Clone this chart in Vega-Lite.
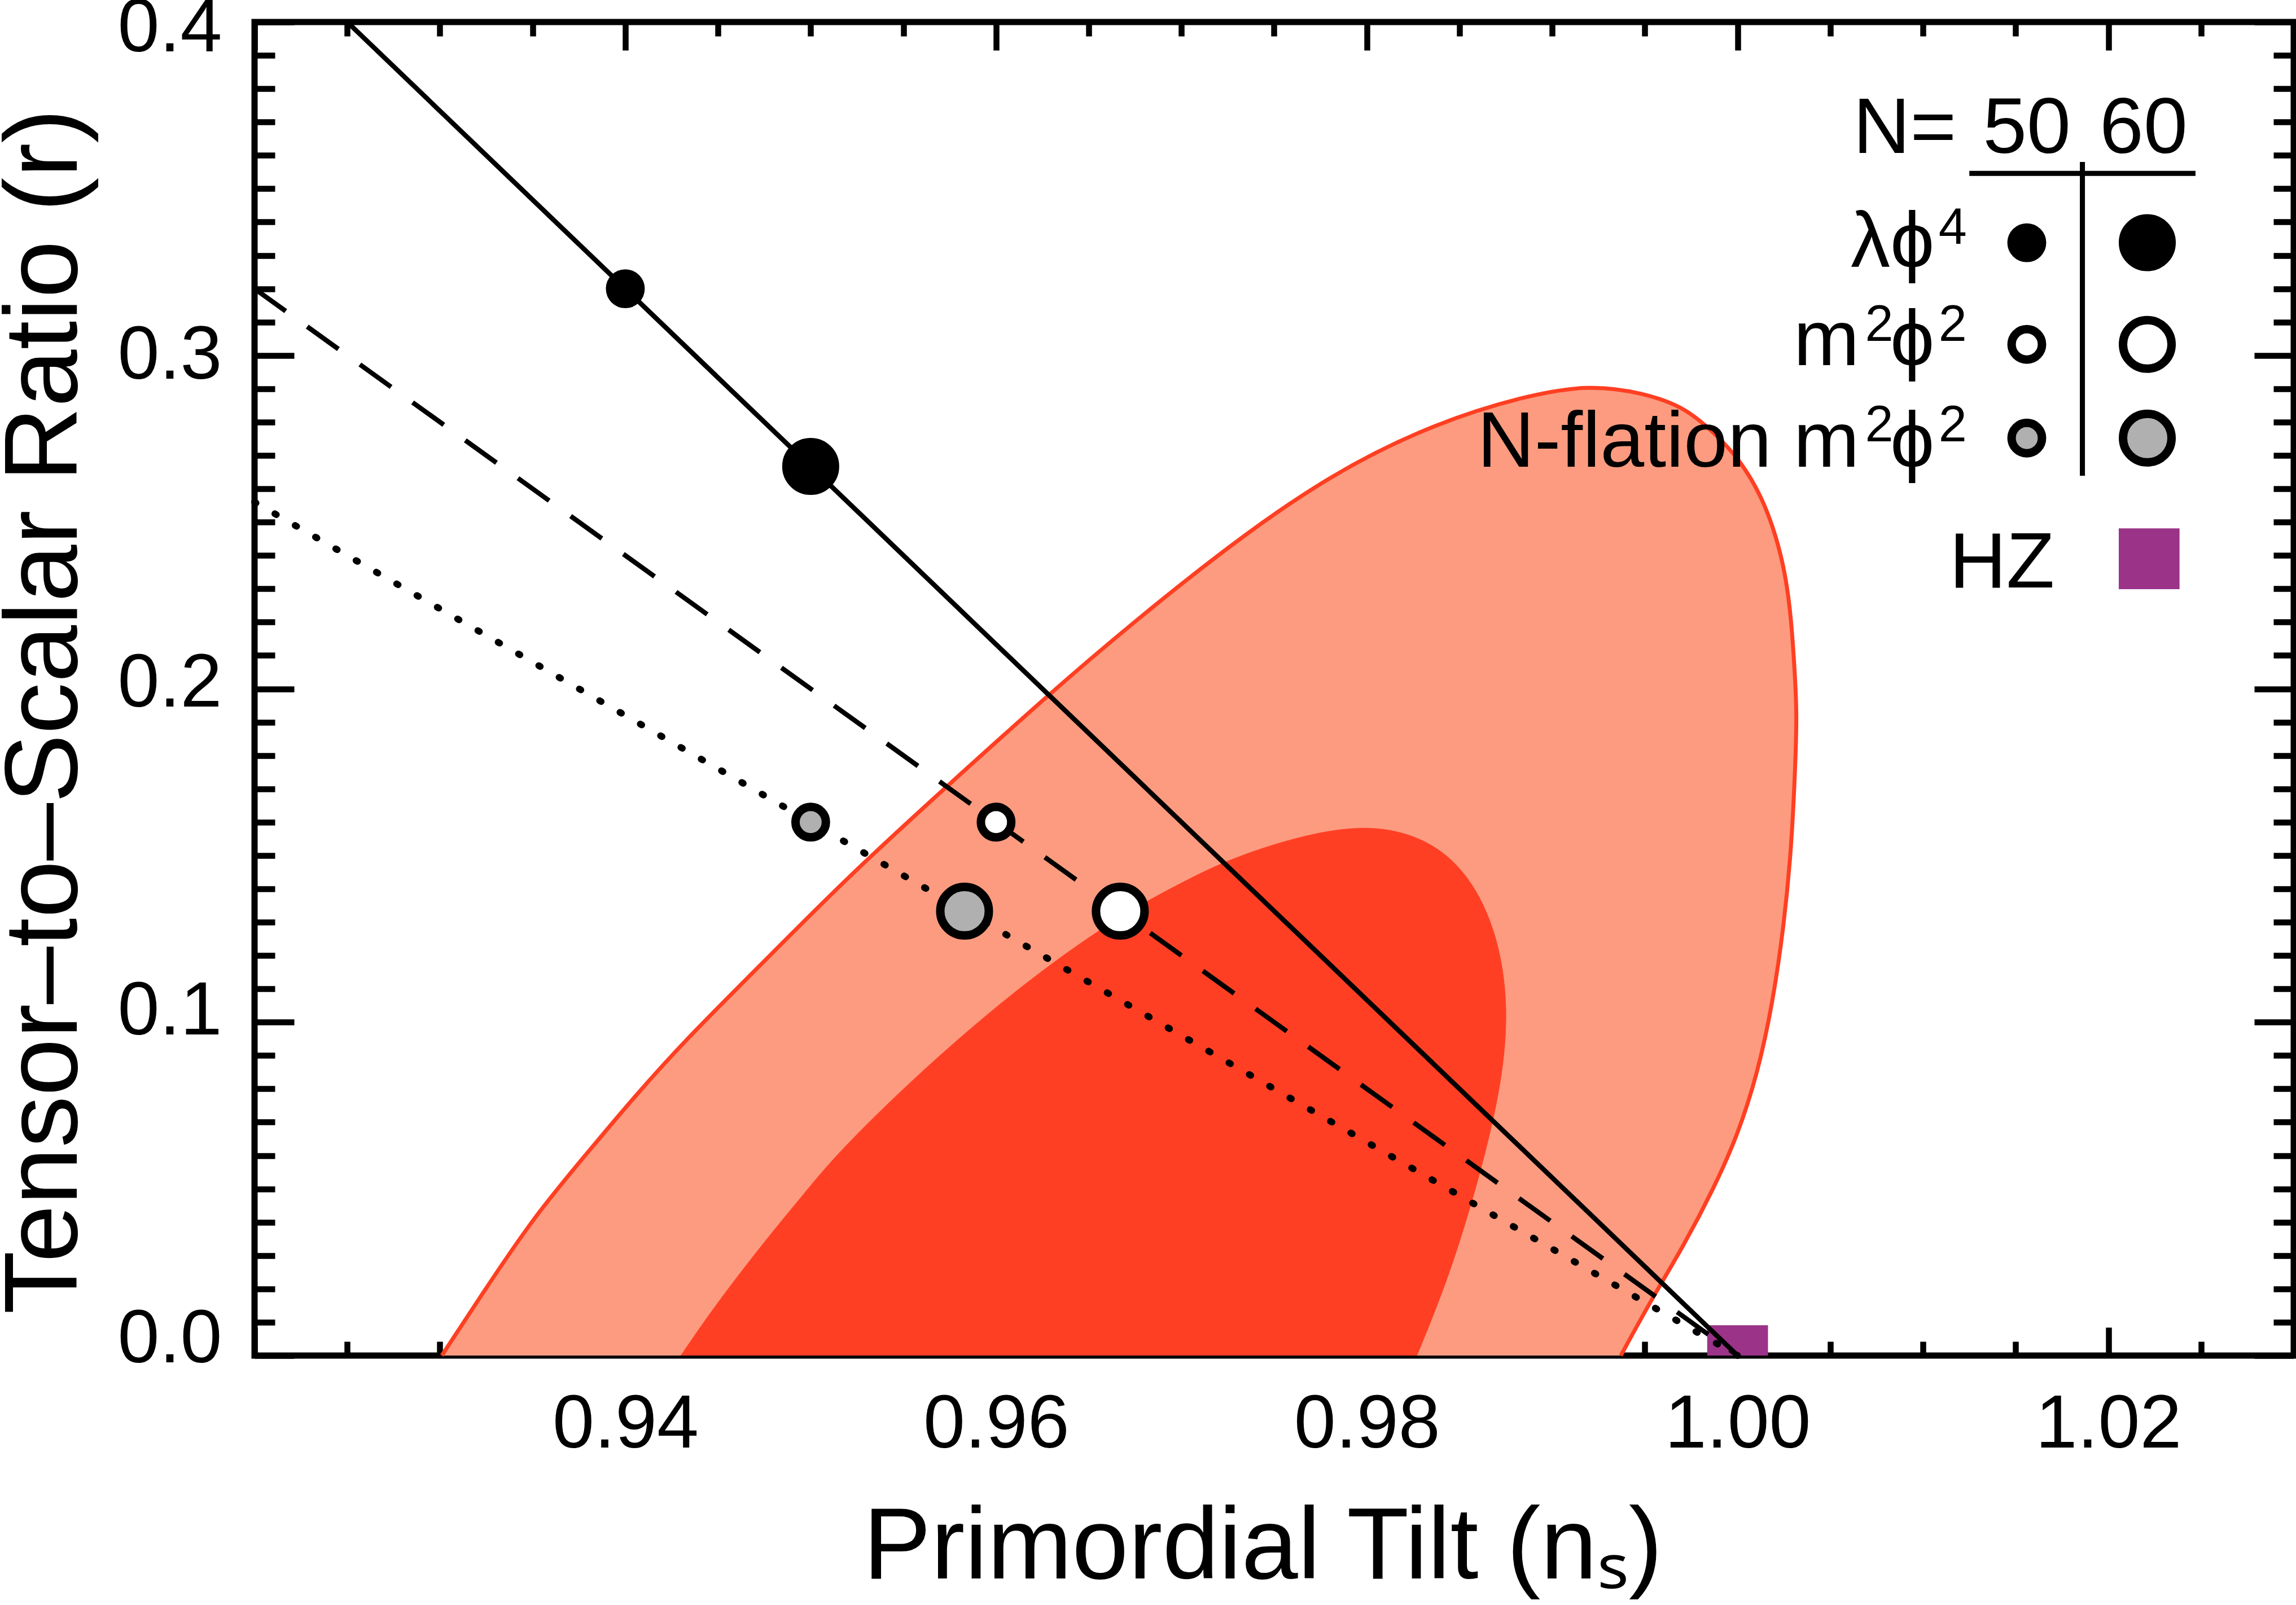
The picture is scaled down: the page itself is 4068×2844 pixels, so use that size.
{
  "$schema": "https://vega.github.io/schema/vega-lite/v6.json",
  "width": 3613,
  "height": 2363,
  "autosize": {"type": "none"},
  "padding": {"left": 451, "top": 39, "right": 4, "bottom": 442},
  "background": "white",
  "config": {
    "view": {"stroke": "black", "strokeWidth": 11},
    "font": "Liberation Sans"
  },
  "datasets": {
    "outer": [
      {"i": 1, "ns": 0.9937, "r": 0.0},
      {"i": 2, "ns": 0.9954, "r": 0.0173},
      {"i": 3, "ns": 0.9971, "r": 0.0330},
      {"i": 4, "ns": 0.9987, "r": 0.0500},
      {"i": 5, "ns": 1.0000, "r": 0.0660},
      {"i": 6, "ns": 1.0011, "r": 0.0850},
      {"i": 7, "ns": 1.0019, "r": 0.1060},
      {"i": 8, "ns": 1.0025, "r": 0.1290},
      {"i": 9, "ns": 1.0029, "r": 0.1520},
      {"i": 10, "ns": 1.0031, "r": 0.1750},
      {"i": 11, "ns": 1.0032, "r": 0.1920},
      {"i": 12, "ns": 1.0031, "r": 0.2035},
      {"i": 13, "ns": 1.0029, "r": 0.2208},
      {"i": 14, "ns": 1.0026, "r": 0.2338},
      {"i": 15, "ns": 1.0021, "r": 0.2455},
      {"i": 16, "ns": 1.0013, "r": 0.2578},
      {"i": 17, "ns": 1.0001, "r": 0.2688},
      {"i": 18, "ns": 0.9989, "r": 0.2759},
      {"i": 19, "ns": 0.9972, "r": 0.2844},
      {"i": 20, "ns": 0.9949, "r": 0.2888},
      {"i": 21, "ns": 0.9920, "r": 0.2912},
      {"i": 22, "ns": 0.9885, "r": 0.2879},
      {"i": 23, "ns": 0.9835, "r": 0.2793},
      {"i": 24, "ns": 0.9780, "r": 0.2642},
      {"i": 25, "ns": 0.9726, "r": 0.2431},
      {"i": 26, "ns": 0.9672, "r": 0.2190},
      {"i": 27, "ns": 0.9629, "r": 0.1986},
      {"i": 28, "ns": 0.9575, "r": 0.1715},
      {"i": 29, "ns": 0.9521, "r": 0.1442},
      {"i": 30, "ns": 0.9462, "r": 0.1110},
      {"i": 31, "ns": 0.9434, "r": 0.0955},
      {"i": 32, "ns": 0.9406, "r": 0.0784},
      {"i": 33, "ns": 0.9378, "r": 0.0598},
      {"i": 34, "ns": 0.9350, "r": 0.0411},
      {"i": 35, "ns": 0.9322, "r": 0.0178},
      {"i": 36, "ns": 0.9301, "r": 0.0}
    ],
    "inner": [
      {"i": 1, "ns": 0.9827, "r": 0.0},
      {"i": 2, "ns": 0.9843, "r": 0.0218},
      {"i": 3, "ns": 0.9856, "r": 0.0445},
      {"i": 4, "ns": 0.9867, "r": 0.0672},
      {"i": 5, "ns": 0.9874, "r": 0.0870},
      {"i": 6, "ns": 0.9876, "r": 0.1060},
      {"i": 7, "ns": 0.9871, "r": 0.1250},
      {"i": 8, "ns": 0.9858, "r": 0.1420},
      {"i": 9, "ns": 0.9837, "r": 0.1540},
      {"i": 10, "ns": 0.9805, "r": 0.1595},
      {"i": 11, "ns": 0.9767, "r": 0.1565},
      {"i": 12, "ns": 0.9726, "r": 0.1490},
      {"i": 13, "ns": 0.9702, "r": 0.1424},
      {"i": 14, "ns": 0.9670, "r": 0.1330},
      {"i": 15, "ns": 0.9629, "r": 0.1175},
      {"i": 16, "ns": 0.9588, "r": 0.0992},
      {"i": 17, "ns": 0.9548, "r": 0.0792},
      {"i": 18, "ns": 0.9513, "r": 0.0598},
      {"i": 19, "ns": 0.9497, "r": 0.0489},
      {"i": 20, "ns": 0.9476, "r": 0.0349},
      {"i": 21, "ns": 0.9448, "r": 0.0147},
      {"i": 22, "ns": 0.9430, "r": 0.0}
    ],
    "models": [
      {"model": "lphi4", "ns": 0.925, "r": 0.4},
      {"model": "lphi4", "ns": 1.0, "r": 0.0},
      {"model": "m2phi2", "ns": 0.92, "r": 0.32},
      {"model": "m2phi2", "ns": 1.0, "r": 0.0},
      {"model": "nflation", "ns": 0.92, "r": 0.256},
      {"model": "nflation", "ns": 1.0, "r": 0.0}
    ],
    "points": [
      {"model": "lphi4", "N": 50, "ns": 0.94, "r": 0.32},
      {"model": "lphi4", "N": 60, "ns": 0.95, "r": 0.2667},
      {"model": "m2phi2", "N": 50, "ns": 0.96, "r": 0.16},
      {"model": "m2phi2", "N": 60, "ns": 0.9667, "r": 0.1333},
      {"model": "nflation", "N": 50, "ns": 0.95, "r": 0.16},
      {"model": "nflation", "N": 60, "ns": 0.9583, "r": 0.1333},
      {"model": "lphi4", "N": 50, "ns": 1.0156, "r": 0.3338},
      {"model": "lphi4", "N": 60, "ns": 1.0221, "r": 0.3338},
      {"model": "m2phi2", "N": 50, "ns": 1.0156, "r": 0.3033},
      {"model": "m2phi2", "N": 60, "ns": 1.0221, "r": 0.3033},
      {"model": "nflation", "N": 50, "ns": 1.0156, "r": 0.2752},
      {"model": "nflation", "N": 60, "ns": 1.0221, "r": 0.2752}
    ],
    "hz": [
      {"ns": 1.0, "r": 0.0},
      {"ns": 1.0222, "r": 0.2390}
    ],
    "legendRules": [
      {"ns": 1.0125, "ns2": 1.0247, "r": 0.3546, "r2": 0.3546},
      {"ns": 1.0186, "ns2": 1.0186, "r": 0.3580, "r2": 0.2639}
    ],
    "legendText": [
      {"ns": 1.0118, "r": 0.3607, "t": "N="},
      {"ns": 1.01062, "r": 0.3265, "t": "λϕ"},
      {"ns": 1.00657, "r": 0.2971, "t": "m"},
      {"ns": 1.01062, "r": 0.2971, "t": "ϕ"},
      {"ns": 1.00657, "r": 0.2666, "t": "N-flation m"},
      {"ns": 1.01062, "r": 0.2666, "t": "ϕ"},
      {"ns": 1.0171, "r": 0.2304, "t": "HZ"}
    ],
    "legendSup": [
      {"ns": 1.01084, "r": 0.3335, "t": "4"},
      {"ns": 1.00688, "r": 0.3044, "t": "2"},
      {"ns": 1.01084, "r": 0.3044, "t": "2"},
      {"ns": 1.00688, "r": 0.2742, "t": "2"},
      {"ns": 1.01084, "r": 0.2742, "t": "2"}
    ],
    "legendHead": [
      {"ns": 1.0156, "r": 0.3607, "t": "50"},
      {"ns": 1.0219, "r": 0.3607, "t": "60"}
    ]
  },
  "layer": [
    {
      "data": {"name": "outer"},
      "mark": {"type": "line", "interpolate": "basis", "fill": "#fc9b7f", "stroke": "#ff3f22", "strokeWidth": 7},
      "encoding": {
        "x": {
          "field": "ns", "type": "quantitative",
          "scale": {"domain": [0.92, 1.03], "nice": false, "zero": false},
          "axis": {
            "orient": "top", "domain": false, "grid": false, "labels": false, "title": null,
            "values": [0.92, 0.925, 0.93, 0.935, 0.94, 0.945, 0.95, 0.955, 0.96, 0.965, 0.97, 0.975, 0.98, 0.985, 0.99, 0.995, 1.0, 1.005, 1.01, 1.015, 1.02, 1.025, 1.03],
            "tickColor": "black", "tickWidth": 10.5,
            "tickSize": {"condition": {"test": "abs(datum.value/0.02 - round(datum.value/0.02)) < 0.01", "value": -50}, "value": -25}
          }
        },
        "y": {
          "field": "r", "type": "quantitative",
          "scale": {"domain": [0, 0.4], "nice": false, "zero": false},
          "axis": {
            "orient": "right", "domain": false, "grid": false, "labels": false, "title": null,
            "values": [0, 0.01, 0.02, 0.03, 0.04, 0.05, 0.06, 0.07, 0.08, 0.09, 0.1, 0.11, 0.12, 0.13, 0.14, 0.15, 0.16, 0.17, 0.18, 0.19, 0.2, 0.21, 0.22, 0.23, 0.24, 0.25, 0.26, 0.27, 0.28, 0.29, 0.3, 0.31, 0.32, 0.33, 0.34, 0.35, 0.36, 0.37, 0.38, 0.39, 0.4],
            "tickColor": "black", "tickWidth": 10.5,
            "tickSize": {"condition": {"test": "abs(datum.value*10 - round(datum.value*10)) < 0.01", "value": -70}, "value": -36}
          }
        },
        "order": {"field": "i", "type": "quantitative"}
      }
    },
    {
      "layer": [
        {
          "data": {"name": "inner"},
          "mark": {"type": "line", "interpolate": "basis", "fill": "#ff3f24", "stroke": "#ff3f24", "strokeWidth": 1},
          "encoding": {
            "x": {
              "field": "ns", "type": "quantitative",
              "scale": {"domain": [0.92, 1.03], "nice": false, "zero": false},
              "axis": {
                "orient": "bottom", "domain": false, "grid": false,
                "values": [0.92, 0.925, 0.93, 0.935, 0.94, 0.945, 0.95, 0.955, 0.96, 0.965, 0.97, 0.975, 0.98, 0.985, 0.99, 0.995, 1.0, 1.005, 1.01, 1.015, 1.02, 1.025, 1.03],
                "tickColor": "black", "tickWidth": 10.5,
                "tickSize": {"condition": {"test": "abs(datum.value/0.02 - round(datum.value/0.02)) < 0.01", "value": -50}, "value": -25},
                "labelExpr": "abs(datum.value/0.02 - round(datum.value/0.02)) < 0.01 && datum.value > 0.93 ? format(datum.value, '.2f') : ''",
                "labelFont": "Liberation Sans", "labelFontSize": 133, "labelColor": "black", "labelLimit": 1000,
                "labelPadding": 107, "labelFlush": false, "labelOverlap": false,
                "title": "Primordial Tilt (nₛ)",
                "titleFont": "Liberation Sans", "titleFontSize": 180, "titleFontWeight": "normal", "titleColor": "black", "titleLimit": 4000,
                "titleX": 1786, "titleY": 394, "titleAlign": "center", "titleBaseline": "alphabetic"
              }
            },
            "y": {
              "field": "r", "type": "quantitative",
              "scale": {"domain": [0, 0.4], "nice": false, "zero": false},
              "axis": {
                "orient": "left", "domain": false, "grid": false,
                "values": [0, 0.01, 0.02, 0.03, 0.04, 0.05, 0.06, 0.07, 0.08, 0.09, 0.1, 0.11, 0.12, 0.13, 0.14, 0.15, 0.16, 0.17, 0.18, 0.19, 0.2, 0.21, 0.22, 0.23, 0.24, 0.25, 0.26, 0.27, 0.28, 0.29, 0.3, 0.31, 0.32, 0.33, 0.34, 0.35, 0.36, 0.37, 0.38, 0.39, 0.4],
                "tickColor": "black", "tickWidth": 10.5,
                "tickSize": {"condition": {"test": "abs(datum.value*10 - round(datum.value*10)) < 0.01", "value": -70}, "value": -36},
                "labelExpr": "abs(datum.value*10 - round(datum.value*10)) < 0.01 ? format(datum.value, '.1f') : ''",
                "labelFont": "Liberation Sans", "labelFontSize": 133, "labelColor": "black", "labelLimit": 1000,
                "labelOffset": {"expr": "-29 + 100 * datum.value"},
                "labelPadding": 128, "labelFlush": false, "labelOverlap": false,
                "title": "Tensor–to–Scalar Ratio (r)",
                "titleFont": "Liberation Sans", "titleFontSize": 183, "titleFontWeight": "normal", "titleColor": "black", "titleLimit": 4000,
                "titleX": -371, "titleY": 1221, "titleAngle": -90, "titleAlign": "center", "titleBaseline": "middle"
              }
            },
            "order": {"field": "i", "type": "quantitative"}
          }
        },
        {
          "data": {"name": "hz"},
          "mark": {"type": "square", "color": "#9b3388", "opacity": 1, "size": 11600, "clip": true},
          "encoding": {
            "x": {"field": "ns", "type": "quantitative", "scale": {"domain": [0.92, 1.03], "nice": false, "zero": false}},
            "y": {"field": "r", "type": "quantitative", "scale": {"domain": [0, 0.4], "nice": false, "zero": false}}
          }
        },
        {
          "data": {"name": "models"},
          "transform": [{"filter": "datum.model === 'lphi4'"}],
          "mark": {"type": "line", "color": "black", "strokeWidth": 8.5},
          "encoding": {
            "x": {"field": "ns", "type": "quantitative", "scale": {"domain": [0.92, 1.03], "nice": false, "zero": false}},
            "y": {"field": "r", "type": "quantitative", "scale": {"domain": [0, 0.4], "nice": false, "zero": false}}
          }
        },
        {
          "data": {"name": "models"},
          "transform": [{"filter": "datum.model === 'm2phi2'"}],
          "mark": {"type": "line", "color": "black", "strokeWidth": 8.5, "strokeDash": [68, 47]},
          "encoding": {
            "x": {"field": "ns", "type": "quantitative", "scale": {"domain": [0.92, 1.03], "nice": false, "zero": false}},
            "y": {"field": "r", "type": "quantitative", "scale": {"domain": [0, 0.4], "nice": false, "zero": false}}
          }
        },
        {
          "data": {"name": "models"},
          "transform": [{"filter": "datum.model === 'nflation'"}],
          "mark": {"type": "line", "color": "black", "strokeWidth": 12, "strokeDash": [3, 38.5], "strokeCap": "round"},
          "encoding": {
            "x": {"field": "ns", "type": "quantitative", "scale": {"domain": [0.92, 1.03], "nice": false, "zero": false}},
            "y": {"field": "r", "type": "quantitative", "scale": {"domain": [0, 0.4], "nice": false, "zero": false}}
          }
        },
        {
          "data": {"name": "points"},
          "mark": {"type": "circle", "stroke": "black", "strokeWidth": 15, "opacity": 1},
          "encoding": {
            "x": {"field": "ns", "type": "quantitative", "scale": {"domain": [0.92, 1.03], "nice": false, "zero": false}},
            "y": {"field": "r", "type": "quantitative", "scale": {"domain": [0, 0.4], "nice": false, "zero": false}},
            "color": {
              "field": "model", "type": "nominal", "legend": null,
              "scale": {"domain": ["lphi4", "m2phi2", "nflation"], "range": ["black", "white", "#b0b0b0"]}
            },
            "size": {
              "field": "N", "type": "quantitative", "legend": null,
              "scale": {"domain": [50, 60], "range": [2900, 7400], "zero": false}
            }
          }
        },
        {
          "data": {"name": "legendRules"},
          "mark": {"type": "rule", "color": "black", "strokeWidth": 9},
          "encoding": {
            "x": {"field": "ns", "type": "quantitative", "scale": {"domain": [0.92, 1.03], "nice": false, "zero": false}},
            "x2": {"field": "ns2"},
            "y": {"field": "r", "type": "quantitative", "scale": {"domain": [0, 0.4], "nice": false, "zero": false}},
            "y2": {"field": "r2"}
          }
        },
        {
          "data": {"name": "legendText"},
          "mark": {"type": "text", "align": "right", "baseline": "alphabetic", "font": "Liberation Sans", "fontSize": 140, "color": "black"},
          "encoding": {
            "x": {"field": "ns", "type": "quantitative", "scale": {"domain": [0.92, 1.03], "nice": false, "zero": false}},
            "y": {"field": "r", "type": "quantitative", "scale": {"domain": [0, 0.4], "nice": false, "zero": false}},
            "text": {"field": "t"}
          }
        },
        {
          "data": {"name": "legendSup"},
          "mark": {"type": "text", "align": "left", "baseline": "alphabetic", "font": "Liberation Sans", "fontSize": 90, "color": "black"},
          "encoding": {
            "x": {"field": "ns", "type": "quantitative", "scale": {"domain": [0.92, 1.03], "nice": false, "zero": false}},
            "y": {"field": "r", "type": "quantitative", "scale": {"domain": [0, 0.4], "nice": false, "zero": false}},
            "text": {"field": "t"}
          }
        },
        {
          "data": {"name": "legendHead"},
          "mark": {"type": "text", "align": "center", "baseline": "alphabetic", "font": "Liberation Sans", "fontSize": 140, "color": "black"},
          "encoding": {
            "x": {"field": "ns", "type": "quantitative", "scale": {"domain": [0.92, 1.03], "nice": false, "zero": false}},
            "y": {"field": "r", "type": "quantitative", "scale": {"domain": [0, 0.4], "nice": false, "zero": false}},
            "text": {"field": "t"}
          }
        }
      ]
    }
  ],
  "resolve": {"axis": {"x": "independent", "y": "independent"}}
}
